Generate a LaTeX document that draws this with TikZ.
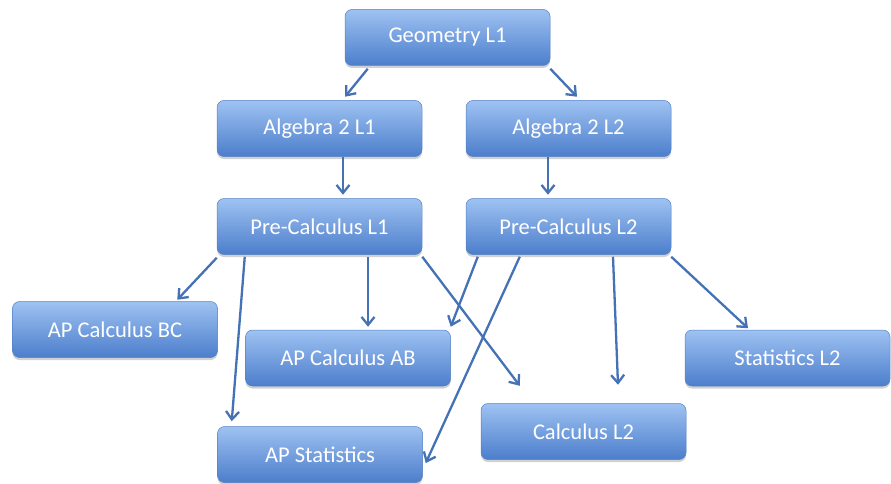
\documentclass[tikz,border=0pt]{standalone}
\usepackage{fontspec}
\setmainfont{Carlito}
\usetikzlibrary{arrows.meta,shadows}
\definecolor{boxtop}{RGB}{158,194,242}
\definecolor{boxbot}{RGB}{76,126,204}
\definecolor{boxedge}{RGB}{84,130,196}
\definecolor{linkblue}{RGB}{68,114,180}
\tikzset{
  course/.style={rounded corners=7pt, minimum width=205pt, minimum height=56pt,
    top color=boxtop, bottom color=boxbot, draw=boxedge, line width=0.5pt,
    text=white, font=\fontsize{22.5}{27}\selectfont,
    drop shadow={shadow xshift=0pt, shadow yshift=-2.5pt, opacity=0.3, fill=black!60}},
  link/.style={draw=linkblue, line width=2.3pt, -{Straight Barb[length=8pt,width=13pt]}}
}
\begin{document}
\begin{tikzpicture}[x=1pt,y=-1pt]
\useasboundingbox (0,0) rectangle (891,484);
\node[course] (geo) at (447.5,37.5) {Geometry L1};
\node[course] (alg1) at (319.5,128.5) {Algebra 2 L1};
\node[course] (alg2) at (568.5,128.5) {Algebra 2 L2};
\node[course] (pc1) at (319.5,226.5) {Pre-Calculus L1};
\node[course] (pc2) at (568.5,226.5) {Pre-Calculus L2};
\node[course] (bc) at (115,329.5) {AP Calculus BC};
\node[course] (ab) at (348,358) {AP Calculus AB};
\node[course] (apstat) at (320,454.5) {AP Statistics};
\node[course] (calc2) at (583.5,431.5) {Calculus L2};
\node[course] (stat2) at (787.5,358) {Statistics L2};
\draw[link] ([xshift=23pt,yshift=-3pt]geo.south west) -- ([xshift=25.5pt,yshift=3.5pt]alg1.north);
\draw[link] ([yshift=-3pt]geo.south east) -- ([xshift=8.5pt,yshift=3.5pt]alg2.north);
\draw[link] ([xshift=23.5pt]alg1.south) -- ([xshift=23.5pt,yshift=3.5pt]pc1.north);
\draw[link] ([xshift=-20.5pt]alg2.south) -- ([xshift=-20.5pt,yshift=3.5pt]pc2.north);
\draw[link] ([yshift=-3pt]pc1.south west) -- ([xshift=-40.5pt,yshift=1.5pt]bc.north east);
\draw[link] ([xshift=28pt,yshift=-2pt]pc1.south west) -- ([xshift=14.5pt,yshift=5pt]apstat.north west);
\draw[link] ([xshift=48.5pt,yshift=-2pt]pc1.south) -- ([xshift=20pt,yshift=3pt]ab.north);
\draw[link] ([yshift=-2pt]pc1.south east) -- ([xshift=39pt,yshift=17.5pt]calc2.north west);
\draw[link] ([xshift=12pt,yshift=-2pt]pc2.south west) -- ([yshift=3pt]ab.north east);
\draw[link] ([xshift=54pt,yshift=-2pt]pc2.south west) -- ([xshift=3pt,yshift=-8.5pt]apstat.east);
\draw[link] ([xshift=44.5pt,yshift=-2pt]pc2.south) -- ([xshift=34.5pt,yshift=18.5pt]calc2.north);
\draw[link] ([yshift=-2pt]pc2.south east) -- ([xshift=-39.5pt,yshift=1.5pt]stat2.north);
\end{tikzpicture}
\end{document}
